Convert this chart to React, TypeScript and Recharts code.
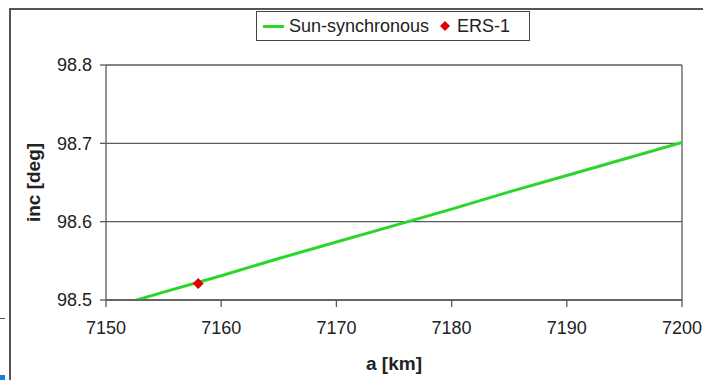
import React from 'react';
import {
  ComposedChart,
  Line,
  Scatter,
  XAxis,
  YAxis,
  CartesianGrid,
  ReferenceLine,
  Legend,
  Label,
} from 'recharts';

// semi-major axis [km] and sun-synchronous inclination [deg]
const axisKm = [7150.8, 7155, 7160, 7165, 7170, 7175, 7180, 7185, 7190, 7195, 7200, 7201];
const sunSyncInc = [98.492, 98.51, 98.531, 98.553, 98.574, 98.595, 98.616, 98.638, 98.659, 98.68, 98.701, 98.705];

// ERS-1 orbit
const ersKm = [7158];
const ersInc = [98.521];

const xTicks = [7150, 7160, 7170, 7180, 7190, 7200];
const yTicks = [98.5, 98.6, 98.7, 98.8];

const GREEN = '#2bd62b';
const RED = '#e00000';
const GRID = '#5a5a5a';
const FONT = '"Liberation Sans", Arial, sans-serif';

const lineData = axisKm.map((a, i) => ({ a, inc: sunSyncInc[i] }));
const ersData = ersKm.map((a, i) => ({ a, inc: ersInc[i] }));

function Diamond(props: any) {
  const { cx, cy } = props;
  const r = 5.5;
  return (
    <polygon
      points={`${cx},${cy - r} ${cx + r},${cy} ${cx},${cy + r} ${cx - r},${cy}`}
      fill={RED}
    />
  );
}

function LegendBox() {
  return (
    <div
      style={{
        border: '1.5px solid #444',
        height: 28,
        width: 272,
        display: 'flex',
        alignItems: 'center',
        fontFamily: FONT,
        fontSize: 18,
        color: '#222',
        background: '#fff',
        boxSizing: 'content-box',
      }}
    >
      <span style={{ display: 'inline-block', width: 21, height: 3, background: GREEN, marginLeft: 6 }} />
      <span style={{ marginLeft: 5 }}>Sun-synchronous</span>
      <svg width={12} height={12} style={{ marginLeft: 10 }}>
        <polygon points="6,1 11,6 6,11 1,6" fill={RED} />
      </svg>
      <span style={{ marginLeft: 6 }}>ERS-1</span>
    </div>
  );
}

function YTitle(props: any) {
  const { viewBox } = props;
  const x = 25;
  const y = viewBox.y + viewBox.height / 2;
  return (
    <text
      x={x}
      y={y}
      transform={`rotate(-90, ${x}, ${y})`}
      textAnchor="middle"
      dominantBaseline="central"
      fontFamily={FONT}
      fontSize={19}
      fontWeight="bold"
      fill="#222"
    >
      inc [deg]
    </text>
  );
}

export default function App() {
  return (
    <div style={{ position: 'relative', width: 703, height: 380, overflow: 'hidden', background: '#fff' }}>
      <style>{'body { margin: 0; }'}</style>
      {/* outer frame of the picture */}
      <div style={{ position: 'absolute', left: 9, top: 8, width: 694, height: 2, background: '#555' }} />
      <div style={{ position: 'absolute', left: 9, top: 8, width: 2, height: 372, background: '#555' }} />
      <div style={{ position: 'absolute', left: 0, top: 318, width: 5, height: 1, background: '#555' }} />
      <div style={{ position: 'absolute', left: 0, top: 375, width: 5, height: 5, background: '#1a7fd4' }} />
      <div style={{ position: 'absolute', left: 8, top: 8 }}>
        <ComposedChart
          width={695}
          height={372}
          margin={{ top: 57, right: 21, bottom: 0, left: 0 }}
          style={{ fontFamily: FONT }}
        >
          <CartesianGrid vertical={false} stroke={GRID} strokeWidth={1.3} />
          <XAxis
            type="number"
            dataKey="a"
            domain={[7150, 7200]}
            allowDataOverflow
            ticks={xTicks}
            interval={0}
            stroke={GRID}
            strokeWidth={1.3}
            tickSize={7}
            tickMargin={14}
            tick={{ fontSize: 18, fill: '#222' }}
            height={80}
          >
            <Label
              value="a [km]"
              position="insideBottom"
              offset={10}
              style={{ fontSize: 19, fontWeight: 'bold', fill: '#222' }}
            />
          </XAxis>
          <YAxis
            type="number"
            dataKey="inc"
            domain={[98.5, 98.8]}
            allowDataOverflow
            ticks={yTicks}
            interval={0}
            stroke={GRID}
            strokeWidth={1.3}
            tickSize={6}
            tickMargin={8}
            tick={{ fontSize: 18, fill: '#222' }}
            tickFormatter={(v: number) => v.toFixed(1)}
            width={98}
          >
            <Label content={<YTitle />} />
          </YAxis>
          <ReferenceLine x={7200} stroke={GRID} strokeWidth={1.3} />
          <Legend
            layout="horizontal"
            verticalAlign="middle"
            align="center"
            content={<LegendBox />}
            wrapperStyle={{ position: 'absolute', left: 248, top: 3, width: 'auto' }}
          />
          <Line
            data={lineData}
            dataKey="inc"
            stroke={GREEN}
            strokeWidth={3}
            dot={false}
            activeDot={false}
            isAnimationActive={false}
            name="Sun-synchronous"
          />
          <Scatter
            data={ersData}
            dataKey="inc"
            fill={RED}
            shape={<Diamond />}
            isAnimationActive={false}
            name="ERS-1"
          />
        </ComposedChart>
      </div>
    </div>
  );
}
